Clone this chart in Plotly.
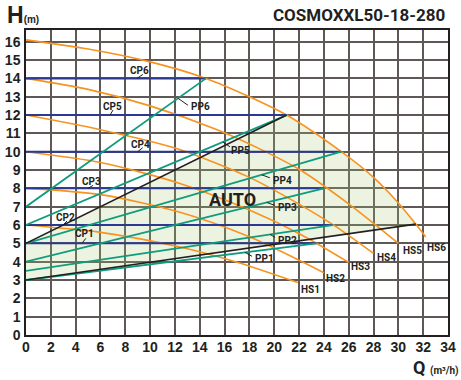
import plotly.graph_objects as go
import numpy as np

# ---- Pump data: flow Q (m³/h) against head H (m) ----
# Maximum curves per speed step
HS1_Q = [0, 6, 12.4, 17, 21.9]
HS1_H = [6.0, 5.6, 4.8, 3.97, 2.86]
HS2_Q = [0, 6, 12.4, 18, 24]
HS2_H = [8.0, 7.66, 6.7, 5.36, 3.4]
HS3_Q = [0, 6, 12.4, 18, 22.1, 26]
HS3_H = [10.0, 9.41, 8.27, 6.82, 5.5, 3.96]
HS4_Q = [0, 6, 12, 18, 22.1, 25, 28]
HS4_H = [12.0, 11.2, 10.2, 8.6, 7.1, 5.9, 4.45]
HS5_Q = [0, 5, 10, 15.4, 19, 22.1, 26.1, 30]
HS5_H = [14.0, 13.4, 12.5, 11.2, 10.1, 9.0, 7.1, 5.0]
HS6_Q = [0, 5, 10, 14.5, 18, 21, 25.4, 28, 30, 31.4, 32.2]
HS6_H = [16.1, 15.6, 14.9, 14.0, 13.0, 12.0, 10.0, 8.6, 7.2, 6.05, 5.35]
HS_NAMES = ["HS1", "HS2", "HS3", "HS4", "HS5", "HS6"]

# Constant-pressure settings CP1..CP6 (head, end flow)
CP_NAMES = ["CP1", "CP2", "CP3", "CP4", "CP5", "CP6"]
CP_H = [5, 6, 8, 10, 12, 14]
CP_END_Q = [23.4, 24.7, 24.0, 25.4, 21.0, 14.5]

# Proportional-pressure settings PP1..PP6 (head at zero flow; end at CP end)
PP_NAMES = ["PP1", "PP2", "PP3", "PP4", "PP5", "PP6"]
PP_START_H = [3.0, 3.5, 4.0, 5.0, 6.0, 7.0]

# AUTO range boundaries
AUTO_UPPER_Q = [0, 21.0]
AUTO_UPPER_H = [5.0, 12.0]
AUTO_LOWER_Q = [0, 31.4]
AUTO_LOWER_H = [3.0, 6.05]

X_TICKS = list(range(0, 35, 2))
Y_TICKS = list(range(0, 17))

ORANGE = "#f7931e"
BLUE = "#2b3990"
TEAL = "#0f9c7c"
BLACK = "#231f20"
GRID = "#5e5956"

hs_q = [HS1_Q, HS2_Q, HS3_Q, HS4_Q, HS5_Q, HS6_Q]
hs_h = [HS1_H, HS2_H, HS3_H, HS4_H, HS5_H, HS6_H]

fig = go.Figure()

# AUTO region: lower line, max curve back up, upper line back to zero flow
seg = [i for i, q in enumerate(HS6_Q) if AUTO_UPPER_Q[1] <= q <= AUTO_LOWER_Q[1]]
poly_q = AUTO_LOWER_Q + [HS6_Q[i] for i in reversed(seg)] + AUTO_UPPER_Q[::-1]
poly_h = AUTO_LOWER_H + [HS6_H[i] for i in reversed(seg)] + AUTO_UPPER_H[::-1]
fig.add_trace(go.Scatter(x=poly_q, y=poly_h, fill="toself", mode="none",
                         fillcolor="rgba(167,199,115,0.22)", hoverinfo="skip"))

for q, h in zip(hs_q, hs_h):
    fig.add_trace(go.Scatter(x=q, y=h, mode="lines",
                             line=dict(color=ORANGE, width=1.6, shape="spline", smoothing=0.8)))

for h, qe in zip(CP_H, CP_END_Q):
    fig.add_trace(go.Scatter(x=[0, qe], y=[h, h], mode="lines",
                             line=dict(color=BLUE, width=2)))

for h0, h, qe in zip(PP_START_H, CP_H, CP_END_Q):
    fig.add_trace(go.Scatter(x=[0, qe], y=[h0, h], mode="lines",
                             line=dict(color=TEAL, width=1.8)))

for q, h in [(AUTO_UPPER_Q, AUTO_UPPER_H), (AUTO_LOWER_Q, AUTO_LOWER_H)]:
    fig.add_trace(go.Scatter(x=q, y=h, mode="lines",
                             line=dict(color=BLACK, width=1.6)))

LABEL_FONT = dict(family="Roboto", size=10, color=BLACK, weight="bold")
annotations = []
shapes = []

# Label placement: (flow on the line, leader dx/dy in px, text shift in px)
CP_LAYOUT = [(4.5, 4, 5, 3, 10), (2.98, 4, 4, 3, 7.5), (5.0, 5, 3, 3, 7),
             (9.0, 5, 4, 3, 7.5), (6.77, 3, 5, 2, 9), (8.94, 6, 4, 3, 7.5)]
PP_LAYOUT = [(17.65, 7, -4, 19, -6), (19.66, 5, -3, 17, -6), (19.4, 8, -3, 21, -5.5),
             (19.0, 8, -3, 21, -5.5), (15.87, 7, -5, 18, -8.5), (12.25, 10, -7, 22, -8.5)]

def add_label(name, q, h, ldx, ldy, tx, ty):
    shapes.append(dict(type="line", xref="x", yref="y", xsizemode="pixel", ysizemode="pixel",
                       xanchor=q, yanchor=h, x0=0, y0=0, x1=ldx, y1=ldy,
                       line=dict(color=BLACK, width=1)))
    annotations.append(dict(x=q, y=h, xref="x", yref="y", text=name, showarrow=False,
                            xshift=tx, yshift=ty, font=LABEL_FONT))

for name, h, (q, ldx, ldy, tx, ty) in zip(CP_NAMES, CP_H, CP_LAYOUT):
    add_label(name, q, h, ldx, ldy, tx, ty)

for name, h0, h, qe, (q, ldx, ldy, tx, ty) in zip(PP_NAMES, PP_START_H, CP_H, CP_END_Q, PP_LAYOUT):
    add_label(name, q, float(np.interp(q, [0, qe], [h0, h])), ldx, ldy, tx, ty)

HS_SHIFT = [(13, -7), (12, -6), (12, -4.5), (12.5, -4.5), (14, -7), (11, -11)]
for name, q, h, (tx, ty) in zip(HS_NAMES, hs_q, hs_h, HS_SHIFT):
    annotations.append(dict(x=q[-1], y=h[-1], xref="x", yref="y", text=name, showarrow=False,
                            xshift=tx, yshift=ty, font=LABEL_FONT))

annotations.append(dict(x=16.6, y=7.38, xref="x", yref="y", text="AUTO", showarrow=False,
                        font=dict(family="Roboto", size=18, color=BLACK, weight="bold")))

# Axis titles and model name
annotations.append(dict(x=-0.05, y=1.097, xref="paper", yref="paper", xanchor="left", yanchor="top",
                        showarrow=False,
                        text="<b>H</b><span style='font-size:10px'><b>(m)</b></span>",
                        font=dict(family="Liberation Sans", size=23, color=BLACK)))
annotations.append(dict(x=0.998, y=1.088, xref="paper", yref="paper", xanchor="right", yanchor="top",
                        showarrow=False, text="<b>COSMOXXL50-18-280</b>",
                        font=dict(family="Roboto", size=17, color=BLACK)))
annotations.append(dict(x=1.031, y=-0.148, xref="paper", yref="paper", xanchor="right", yanchor="bottom",
                        showarrow=False,
                        text="<b>Q</b> <span style='font-size:10px'><b>(m³/h)</b></span>",
                        font=dict(family="Roboto", size=18, color=BLACK)))

axis_common = dict(showgrid=True, gridcolor=GRID, gridwidth=1.5, zeroline=False, automargin=False,
                   showline=True, linecolor=BLACK, linewidth=1.5, mirror=True, ticks="",
                   tickfont=dict(family="Liberation Sans", size=14, color=BLACK, weight="bold"))

fig.update_layout(
    width=461, height=380,
    margin=dict(l=26, r=13, t=30, b=45),
    plot_bgcolor="white", paper_bgcolor="white",
    showlegend=False,
    xaxis=dict(range=[0, 34], tickvals=X_TICKS, ticklabelstandoff=-2, **axis_common),
    yaxis=dict(range=[0, 16.64], tickvals=Y_TICKS, ticklabelstandoff=1, **axis_common),
    annotations=annotations,
    shapes=shapes,
)

fig.write_html("out.html")
